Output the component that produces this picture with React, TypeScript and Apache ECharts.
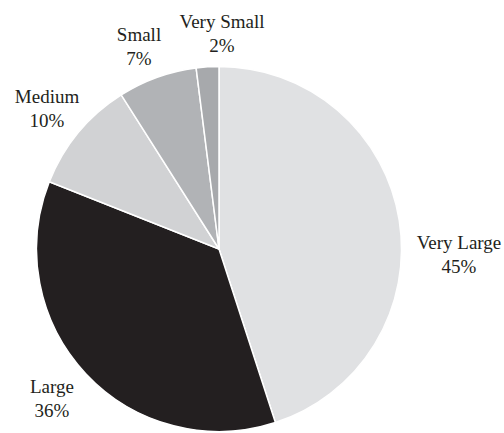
import React, { useEffect, useRef } from "react";
import * as echarts from "echarts";

const categories = ["Very Large", "Large", "Medium", "Small", "Very Small"];
const values = [45, 36, 10, 7, 2];
const colors = ["#e0e1e3", "#231f20", "#d1d2d4", "#b1b3b6", "#a7a9ac"];
// label anchor points (pixel centres of each two-line label)
const labelAnchors: [number, number][] = [
  [459, 254],
  [52, 398],
  [47, 108],
  [139, 46],
  [222, 33],
];

export default function App() {
  const ref = useRef<HTMLDivElement>(null);
  useEffect(() => {
    document.body.style.margin = "0";
    const chart = echarts.init(ref.current!, undefined, { renderer: "svg" });
    chart.setOption({
      animation: false,
      backgroundColor: "#ffffff",
      textStyle: { fontFamily: "'Liberation Serif', 'Times New Roman', serif" },
      series: [
        {
          type: "pie",
          center: [219, 249],
          radius: 182.5,
          startAngle: 90,
          clockwise: true,
          avoidLabelOverlap: false,
          itemStyle: { borderColor: "#ffffff", borderWidth: 1.5 },
          label: {
            show: true,
            position: "outside",
            formatter: (p: any) => `${p.name}\n${Math.round(p.percent)}%`,
            fontFamily: "'Liberation Serif', 'Times New Roman', serif",
            fontSize: 19,
            lineHeight: 24,
            color: "#231f20",
            align: "center",
          },
          labelLine: { show: false },
          labelLayout: (params: any) => {
            const a = labelAnchors[params.dataIndex];
            return { x: a[0], y: a[1], align: "center", verticalAlign: "middle" };
          },
          emphasis: { disabled: true },
          data: categories.map((name, i) => ({
            name,
            value: values[i],
            itemStyle: { color: colors[i] },
          })),
        },
      ],
    });
    return () => chart.dispose();
  }, []);
  return <div ref={ref} style={{ width: 504, height: 433 }} />;
}
